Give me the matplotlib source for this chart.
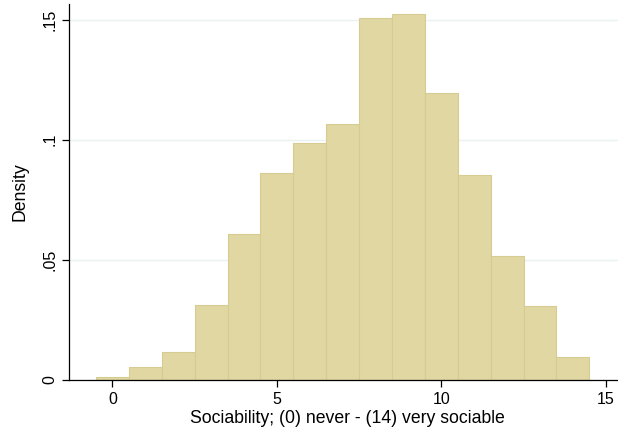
import numpy as np
import matplotlib
matplotlib.use('Agg')
import matplotlib.pyplot as plt

# > Data (bin centres and density)
scores = np.arange(0, 15)
density = [0.00125, 0.0054, 0.0117, 0.0314, 0.0608, 0.0863, 0.0988, 0.1067,
           0.1508, 0.1525, 0.1194, 0.0854, 0.0515, 0.0310, 0.0095]
y_ticks = [0, 0.05, 0.1, 0.15]
y_tick_labels = ['0', '.05', '.1', '.15']
x_ticks = [0, 5, 10, 15]

plt.rcParams['font.family'] = ['Liberation Sans', 'DejaVu Sans']

fig = plt.figure(figsize=(6.18, 4.33), dpi=100)
ax = fig.add_axes([69 / 618, 53 / 433, 549 / 618, 376 / 433])

ax.bar(scores, density, width=1.0, color='#e1d7a3', edgecolor='#d6cc92',
       linewidth=0.8, zorder=2)

ax.set_xlim(-1.32, 15.37)
ax.set_ylim(0, 0.1565)

ax.set_yticks(y_ticks)
ax.set_yticklabels(y_tick_labels, rotation=90, va='center')
ax.set_xticks(x_ticks)
ax.tick_params(axis='both', labelsize=11.5, length=5, width=0.9, direction='out')
ax.grid(axis='y', color='#eaf2f3', linewidth=1.0, zorder=0)
ax.set_axisbelow(True)

for side in ('top', 'right'):
    ax.spines[side].set_visible(False)
for side in ('left', 'bottom'):
    ax.spines[side].set_linewidth(0.9)

ax.set_xlabel('Sociability; (0) never - (14) very sociable', fontsize=12.7,
              labelpad=2)
ax.xaxis.label.set_x(0.507)
ax.set_ylabel('Density', fontsize=12.7, labelpad=10)

#> Save chart
fig.savefig('out.png', dpi=100)
